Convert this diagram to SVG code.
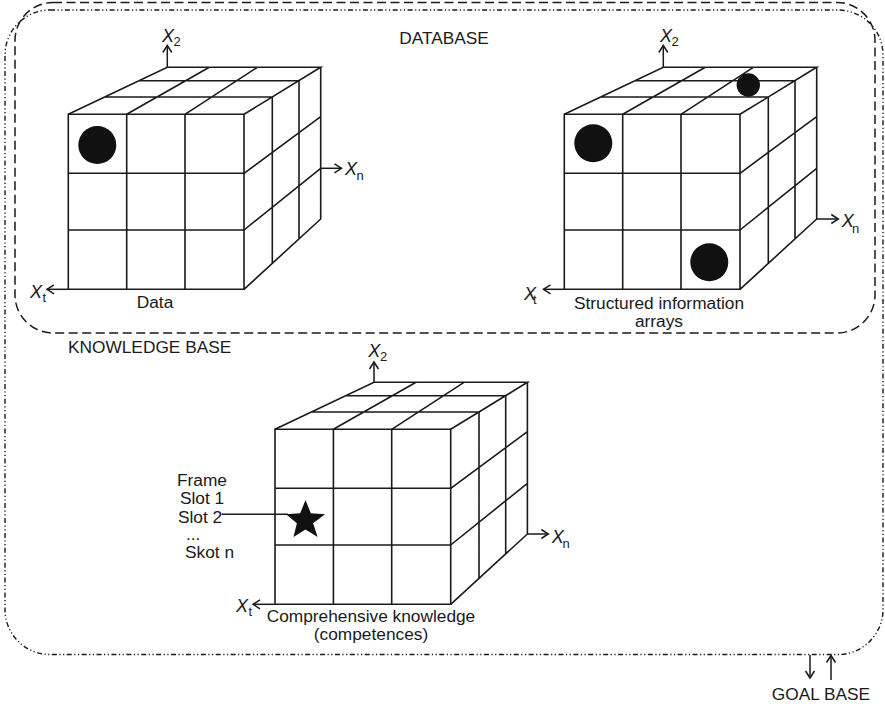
<svg xmlns="http://www.w3.org/2000/svg" xmlns:xlink="http://www.w3.org/1999/xlink" width="885" height="706" viewBox="0 0 885 706">
  <style>
    .ln { fill: none; stroke: #1a1a1a; stroke-width: 1.6; }
    .ax { fill: none; stroke: #1a1a1a; stroke-width: 1.5; }
    .lbl { font-family: "Liberation Sans", Arial, Helvetica, sans-serif; font-size: 17.3px; fill: #1a1a1a; }
    .axl { font-family: "Liberation Sans", Arial, Helvetica, sans-serif; font-size: 18px; font-style: italic; fill: #1a1a1a; }
    .sub { font-family: "Liberation Sans", Arial, Helvetica, sans-serif; font-size: 13px; fill: #1a1a1a; }
    .dot { fill: #111; }
  </style>
  <defs>
    <marker id="arr" viewBox="-9 -6 11 12" markerWidth="11" markerHeight="12" refX="0" refY="0" orient="auto" markerUnits="userSpaceOnUse">
      <path d="M-7,-4.5 L0,0 L-7,4.5" fill="none" stroke="#1a1a1a" stroke-width="1.5"/>
    </marker>
    <!-- 3x3x3 grid cube drawn in perspective: front face, top face, right face -->
    <g id="cube-grid">
      <path class="ln" d="M68.3,114.3 H244 V289.3 H68.3 Z M126.7,114.3 V289.3 M185,114.3 V289.3 M68.3,173.3 H244 M68.3,230 H244"/>
      <path class="ln" d="M68.3,114.3 L167.3,67.3 H320.7 L244,114.3 M126.7,114.3 L209.3,67.3 M185,114.3 L257.3,67.3 M104.7,97 H272.3 M139.1,80.7 H299"/>
      <path class="ln" d="M320.7,67.3 V219 L244,289.3 M299,80.7 V239.2 M272.3,97 V263.4 M244,173.3 L320.7,116.7 M244,230 L320.7,168.3"/>
    </g>
  </defs>

  <rect width="885" height="706" fill="#fff"/>

  <!-- outer knowledge-base boundary (dash-dot-dot) -->
  <g id="knowledge-base-frame">
    <rect x="5" y="10" width="878" height="644.5" rx="45" fill="none" stroke="#1a1a1a" stroke-width="1.4" stroke-dasharray="5 2.5 1.2 2.5 1.2 2.5"/>
    <text class="lbl" x="68" y="353">KNOWLEDGE BASE</text>
  </g>

  <!-- inner database boundary (dashed) -->
  <g id="database-frame">
    <rect x="15" y="2.5" width="860" height="330.5" rx="38" fill="none" stroke="#1a1a1a" stroke-width="1.5" stroke-dasharray="9 4.5"/>
    <text class="lbl" x="444" y="44" text-anchor="middle">DATABASE</text>
  </g>

  <!-- data cube -->
  <g id="cube-data">
    <use xlink:href="#cube-grid"/>
    <circle class="dot" cx="97.3" cy="145" r="19"/>
    <text class="lbl" x="155" y="308" text-anchor="middle">Data</text>
    <text class="axl" x="162" y="41.7">X</text><text class="sub" x="173.5" y="46">2</text>
    <text class="axl" x="30" y="298">X</text><text class="sub" x="42.5" y="302">t</text>
    <text class="axl" x="345" y="175">X</text><text class="sub" x="356.5" y="180">n</text>
  </g>

  <!-- structured information cube -->
  <g id="cube-structured">
    <use xlink:href="#cube-grid" transform="translate(496,0)"/>
    <circle class="dot" cx="593.3" cy="143.3" r="19"/>
    <circle class="dot" cx="709.3" cy="262.3" r="19"/>
    <circle class="dot" cx="748.3" cy="85" r="11.7"/>
    <text class="lbl" x="659" y="309" text-anchor="middle">Structured information</text>
    <text class="lbl" x="659" y="327" text-anchor="middle">arrays</text>
    <text class="axl" x="660" y="41.7">X</text><text class="sub" x="671.5" y="46">2</text>
    <text class="axl" x="524" y="300">X</text><text class="sub" x="533" y="303.5">t</text>
    <text class="axl" x="841.7" y="226.7">X</text><text class="sub" x="852" y="233">n</text>
  </g>

  <!-- comprehensive knowledge cube -->
  <g id="cube-knowledge">
    <use xlink:href="#cube-grid" transform="translate(206.7,315)"/>
    <polygon class="dot" points="305.5,500 310.8,513.2 325,514.2 313.1,523.3 317.6,537.1 305.5,529.5 293.5,537.1 296.9,523.3 286,514.2 300.2,513.2"/>
    <text class="lbl" x="371" y="621.7" text-anchor="middle">Comprehensive knowledge</text>
    <text class="lbl" x="371" y="639.5" text-anchor="middle">(competences)</text>
    <text class="axl" x="368.3" y="356.7">X</text><text class="sub" x="380" y="361">2</text>
    <text class="axl" x="236" y="611.7">X</text><text class="sub" x="248.5" y="616">t</text>
    <text class="axl" x="551.7" y="543.3">X</text><text class="sub" x="562.5" y="548">n</text>
  </g>

  <!-- frame slots -->
  <g id="frame-slots">
    <text class="lbl" x="177" y="486">Frame</text>
    <text class="lbl" x="180" y="504.3">Slot 1</text>
    <text class="lbl" x="178" y="522.7">Slot 2</text>
    <text class="lbl" x="186" y="540">...</text>
    <text class="lbl" x="185" y="558.3">Skot n</text>
  </g>

  <!-- goal base -->
  <g id="goal-base">
    <text class="lbl" x="821" y="700" text-anchor="middle">GOAL BASE</text>
  </g>

  <!-- connectors: axes, slot pointer, goal-base links -->
  <g id="connectors">
    <line class="ax" x1="167.3" y1="67.3" x2="167.3" y2="45.5" marker-end="url(#arr)"/>
    <line class="ax" x1="68.3" y1="289.3" x2="47" y2="289.3" marker-end="url(#arr)"/>
    <line class="ax" x1="320.7" y1="168.3" x2="341.5" y2="168.3" marker-end="url(#arr)"/>

    <line class="ax" x1="663.3" y1="67.3" x2="663.3" y2="45.5" marker-end="url(#arr)"/>
    <line class="ax" x1="564.3" y1="289.3" x2="543.5" y2="289.3" marker-end="url(#arr)"/>
    <line class="ax" x1="816.7" y1="219" x2="838.3" y2="219" marker-end="url(#arr)"/>

    <line class="ax" x1="374" y1="382.3" x2="374" y2="362" marker-end="url(#arr)"/>
    <line class="ax" x1="275" y1="604.3" x2="253" y2="604.3" marker-end="url(#arr)"/>
    <line class="ax" x1="527.4" y1="534" x2="548.3" y2="534" marker-end="url(#arr)"/>

    <line class="ax" x1="221.5" y1="514.2" x2="288" y2="514.2"/>

    <line class="ax" x1="810" y1="655" x2="810" y2="678" marker-end="url(#arr)"/>
    <line class="ax" x1="831" y1="680" x2="831" y2="655.5" marker-end="url(#arr)"/>
  </g>
</svg>
